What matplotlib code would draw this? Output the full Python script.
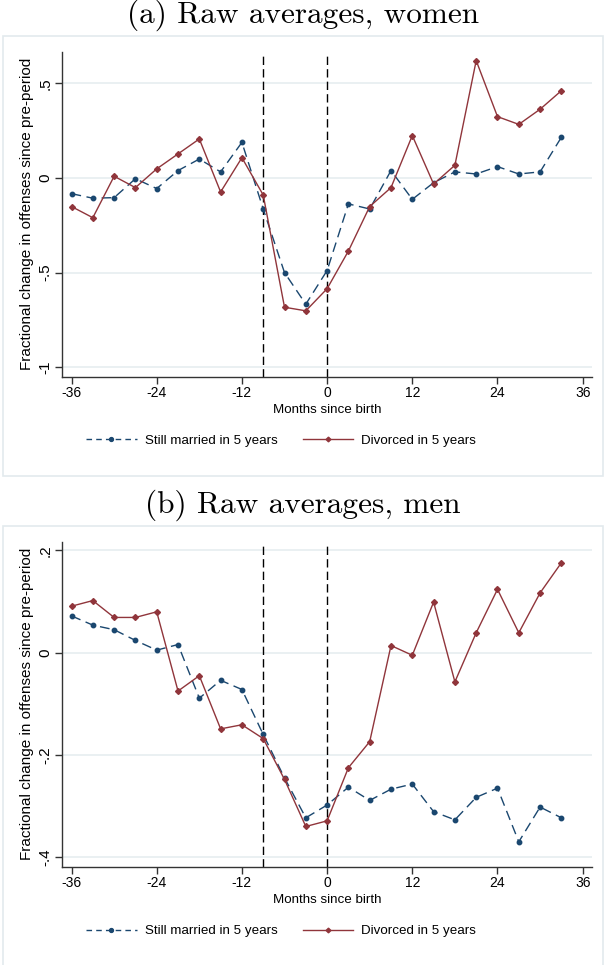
import matplotlib
matplotlib.use("Agg")
import matplotlib.pyplot as plt
from matplotlib.patches import Rectangle
from matplotlib.lines import Line2D

# months since birth (every 3 months)
months = list(range(-36, 34, 3))

# (a) women
women_married = [-0.083, -0.107, -0.104, -0.004, -0.056, 0.039, 0.100, 0.032, 0.188,
                 -0.164, -0.500, -0.667, -0.489, -0.137, -0.164, 0.039, -0.113, -0.025,
                 0.032, 0.021, 0.060, 0.021, 0.032, 0.215]
women_divorced = [-0.151, -0.210, 0.009, -0.051, 0.048, 0.127, 0.206, -0.074, 0.107,
                  -0.090, -0.683, -0.702, -0.585, -0.386, -0.151, -0.051, 0.224, -0.032,
                  0.067, 0.620, 0.324, 0.283, 0.363, 0.461]

# (b) men
men_married = [0.072, 0.054, 0.045, 0.024, 0.005, 0.016, -0.089, -0.054, -0.072,
               -0.160, -0.245, -0.323, -0.298, -0.263, -0.289, -0.267, -0.257, -0.311,
               -0.327, -0.283, -0.265, -0.370, -0.302, -0.323]
men_divorced = [0.091, 0.102, 0.069, 0.069, 0.080, -0.075, -0.045, -0.149, -0.141,
                -0.168, -0.248, -0.340, -0.329, -0.225, -0.174, 0.014, -0.005, 0.099,
                -0.057, 0.039, 0.124, 0.039, 0.117, 0.176]

women_yticks = [-1, -0.5, 0, 0.5]
women_ylabels = ["-1", "-.5", "0", ".5"]
men_yticks = [-0.4, -0.2, 0, 0.2]
men_ylabels = ["-.4", "-.2", "0", ".2"]
xticks = [-36, -24, -12, 0, 12, 24, 36]
event_lines = [-9, 0]

NAVY = "#1a476f"
MAROON = "#90353b"
GRID = "#e6eef0"
BOX = "#e3eaed"

plt.rcParams["font.family"] = ["Liberation Sans", "DejaVu Sans"]

W, H = 606, 965
fig = plt.figure(figsize=(W / 100, H / 100), dpi=100)


def fx(px):
    return px / W


def fy(py):
    return 1 - py / H


def panel(top, title, married, divorced, yticks, ylabels, ylim):
    # stata-style graph region box
    fig.patches.append(Rectangle((fx(3), fy(top + 440)), fx(600), (440) / H,
                                 transform=fig.transFigure, fill=False,
                                 edgecolor=BOX, lw=1.2))
    fig.text(0.5, fy(top - 21), title, ha="center", va="center",
             family="cmr10", fontsize=22.5)
    ax = fig.add_axes([fx(62.3), fy(top + 340.7), fx(529.4), 325 / H])
    ax.set_xlim(-37.3, 37.27)
    ax.set_ylim(*ylim)
    for y in yticks:
        ax.axhline(y, color=GRID, lw=1.2, zorder=0)
    for x in event_lines:
        ax.axvline(x, color="black", lw=1.0, ls=(0, (6, 3)), zorder=1)
    ax.plot(months, married, color=NAVY, lw=1.0, ls=(0, (7, 4)), marker="o",
            ms=3.2, mec=NAVY, mfc=NAVY, zorder=3)
    ax.plot(months, divorced, color=MAROON, lw=1.0, marker="D", ms=3.0,
            mec=MAROON, mfc=MAROON, zorder=3)
    ax.spines["top"].set_visible(False)
    ax.spines["right"].set_visible(False)
    for s in ("left", "bottom"):
        ax.spines[s].set_color("#333333")
        ax.spines[s].set_linewidth(1.0)
    ax.set_xticks(xticks)
    ax.set_xticklabels([str(t) for t in xticks], fontsize=10)
    ax.set_yticks(yticks)
    ax.set_yticklabels(ylabels, rotation=90, va="center", fontsize=11)
    ax.tick_params(direction="out", length=5, width=1.0, color="#333333", pad=2)
    ax.set_xlabel("Months since birth", fontsize=9.6, labelpad=2.5)
    ax.set_ylabel("Fractional change in offenses since pre-period", fontsize=11,
                  labelpad=3)
    handles = [
        Line2D([], [], color=NAVY, lw=1.0, ls=(0, (4, 3)), marker="o", ms=2.8),
        Line2D([], [], color=MAROON, lw=1.0, marker="D", ms=2.4),
    ]
    fig.legend(handles, ["Still married in 5 years", "Divorced in 5 years"],
               loc="center", bbox_to_anchor=(fx(281), fy(top + 405)), ncol=2,
               frameon=False, fontsize=9.6, handlelength=3.8, columnspacing=1.9,
               handletextpad=0.6, numpoints=1)
    return ax


panel(36, "(a) Raw averages, women", women_married, women_divorced,
      women_yticks, women_ylabels, (-1.05, 0.667))
panel(526, "(b) Raw averages, men", men_married, men_divorced,
      men_yticks, men_ylabels, (-0.4187, 0.2172))

fig.savefig("out.png", dpi=100)
